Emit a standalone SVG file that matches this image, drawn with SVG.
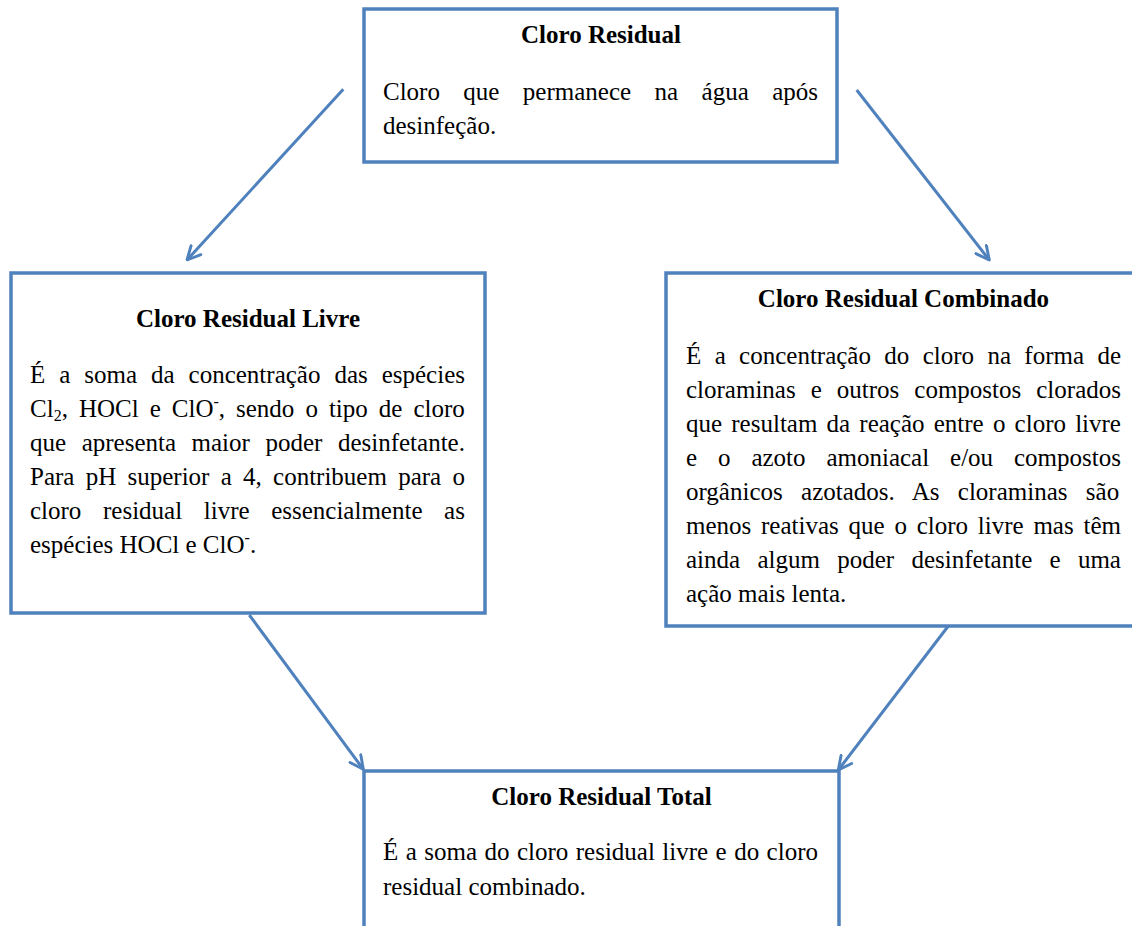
<svg xmlns="http://www.w3.org/2000/svg" width="1132" height="926" viewBox="0 0 1132 926">
<style>
.box{fill:#fff;stroke:#4F81BD;stroke-width:3.5}
.t{font-family:"Liberation Serif","Times New Roman",serif;font-size:25px;fill:#000}
.h{font-weight:bold;text-anchor:middle}
.c{fill:none;stroke:#4F81BD;stroke-width:3}
</style>
<defs>
<marker id="ah" viewBox="0 0 12 12" refX="11" refY="6" markerWidth="16" markerHeight="16" markerUnits="userSpaceOnUse" orient="auto">
<path d="M1,1 L11,6 L1,11" fill="none" stroke="#4F81BD" stroke-width="2.2" stroke-linecap="round" stroke-linejoin="round"/>
</marker>
</defs>
<rect width="1132" height="926" fill="#fff"/>
<g id="n-residual">
<rect class="box" x="364" y="9" width="473" height="153"/>
<text class="t h" x="601" y="43">Cloro Residual</text>
<text class="t" x="383" y="100" style="word-spacing:17.16px">Cloro que permanece na água após</text>
<text class="t" x="383" y="134">desinfeção.</text>
</g>
<g id="n-livre">
<rect class="box" x="11" y="273" width="474" height="340"/>
<text class="t h" x="248" y="327">Cloro Residual Livre</text>
<text class="t" x="30" y="383" style="word-spacing:7.71px">É a soma da concentração das espécies</text>
<text class="t" x="30" y="417" style="word-spacing:4.77px">Cl<tspan dy="4" font-size="16">2</tspan><tspan dy="-4">, HOCl e ClO</tspan><tspan dy="-10" font-size="16">-</tspan><tspan dy="10">, sendo o tipo de cloro</tspan></text>
<text class="t" x="30" y="451" style="word-spacing:9.3px">que apresenta maior poder desinfetante.</text>
<text class="t" x="30" y="485" style="word-spacing:5.01px">Para pH superior a 4, contribuem para o</text>
<text class="t" x="30" y="519" style="word-spacing:15.37px">cloro residual livre essencialmente as</text>
<text class="t" x="30" y="553">espécies HOCl e ClO<tspan dy="-10" font-size="16">-</tspan><tspan dy="10">.</tspan></text>
</g>
<g id="n-combinado">
<rect class="box" x="666" y="273" width="474" height="353"/>
<text class="t h" x="903.5" y="307">Cloro Residual Combinado</text>
<text class="t" x="686" y="364" style="word-spacing:7.11px">É a concentração do cloro na forma de</text>
<text class="t" x="686" y="398" style="word-spacing:8.76px">cloraminas e outros compostos clorados</text>
<text class="t" x="686" y="432" style="word-spacing:2.94px">que resultam da reação entre o cloro livre</text>
<text class="t" x="686" y="466" style="word-spacing:14.65px">e o azoto amoniacal e/ou compostos</text>
<text class="t" x="686" y="500" style="word-spacing:12.07px">orgânicos azotados. As cloraminas são</text>
<text class="t" x="686" y="534" style="word-spacing:3.52px">menos reativas que o cloro livre mas têm</text>
<text class="t" x="686" y="568" style="word-spacing:11.05px">ainda algum poder desinfetante e uma</text>
<text class="t" x="686" y="602">ação mais lenta.</text>
</g>
<g id="n-total">
<rect class="box" x="364" y="771" width="475" height="170"/>
<text class="t h" x="601.5" y="805">Cloro Residual Total</text>
<text class="t" x="383" y="860" style="word-spacing:1.2px">É a soma do cloro residual livre e do cloro</text>
<text class="t" x="383" y="895">residual combinado.</text>
</g>
<g id="connectors">
<line class="c" x1="343.3" y1="89.3" x2="187" y2="260" marker-end="url(#ah)"/>
<line class="c" x1="856.7" y1="90" x2="989.3" y2="260" marker-end="url(#ah)"/>
<line class="c" x1="249.3" y1="615" x2="363.3" y2="769.3" marker-end="url(#ah)"/>
<line class="c" x1="948.3" y1="626" x2="838.3" y2="770" marker-end="url(#ah)"/>
</g>
</svg>
